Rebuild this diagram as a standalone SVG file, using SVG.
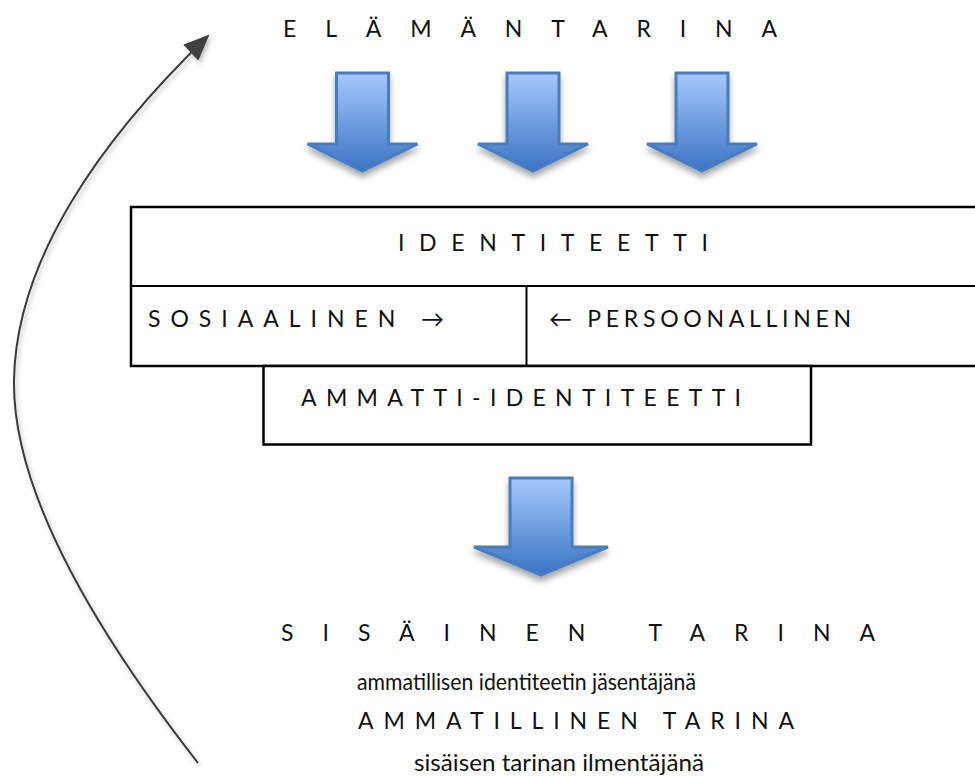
<svg xmlns="http://www.w3.org/2000/svg" width="975" height="776" viewBox="0 0 975 776">
  <defs>
    <style>
      .cap { font-family: "Lato", "Open Sans", "Liberation Sans", sans-serif; font-size: 23px; fill: #111; }
      .low { font-family: "Lato", "Open Sans", "Liberation Sans", sans-serif; font-size: 23px; fill: #111; }
      .box { fill: #fff; stroke: #000; stroke-width: 2.5; }
      .line { stroke: #000; stroke-width: 2; fill: none; }
      .blue { fill: url(#bg); stroke: #4a7cbc; stroke-width: 3; filter: url(#sh); }
      .curve { fill: none; stroke: #3a3a3a; stroke-width: 2; filter: url(#sh2); }
    </style>
    <linearGradient id="bg" x1="0" y1="0" x2="0" y2="1">
      <stop offset="0" stop-color="#a6c8fc"/>
      <stop offset="1" stop-color="#3a74c4"/>
    </linearGradient>
    <filter id="sh" x="-30%" y="-20%" width="160%" height="150%">
      <feDropShadow dx="0" dy="5" stdDeviation="3" flood-color="#000" flood-opacity="0.35"/>
    </filter>
    <filter id="sh2" x="-20%" y="-10%" width="140%" height="120%">
      <feDropShadow dx="2" dy="3" stdDeviation="2" flood-color="#000" flood-opacity="0.25"/>
    </filter>
    <marker id="ah" markerUnits="userSpaceOnUse" markerWidth="26" markerHeight="22" viewBox="0 0 26 22" refX="24" refY="11" orient="auto">
      <path d="M0,0 L26,11 L0,22 Z" fill="#404040"/>
    </marker>
    <path id="down" d="M-26,0 H26 V71 H55 L0,98 L-55,71 H-26 Z"/>
  </defs>
  <rect width="975" height="776" fill="#fff"/>

  <g id="connectors">
    <path class="curve" d="M198,763 C110,650 12,500 14,380 C16,260 100,140 208,36" marker-end="url(#ah)"/>
  </g>

  <g id="elamantarina">
    <text class="cap" x="283" y="37" textLength="494" lengthAdjust="spacing">ELÄMÄNTARINA</text>
  </g>

  <g id="arrows-top">
    <use href="#down" class="blue" transform="translate(362.5,73)"/>
    <use href="#down" class="blue" transform="translate(533,73)"/>
    <use href="#down" class="blue" transform="translate(702,73)"/>
  </g>

  <g id="identiteetti">
    <rect class="box" x="131" y="207" width="850" height="159"/>
    <line class="line" x1="131" y1="286" x2="975" y2="286"/>
    <line class="line" x1="526.5" y1="286" x2="526.5" y2="366"/>
    <text class="cap" x="398" y="251" textLength="310" lengthAdjust="spacing">IDENTITEETTI</text>
  </g>

  <g id="sosiaalinen">
    <text class="cap" x="148" y="327" textLength="296" lengthAdjust="spacing">SOSIAALINEN  →</text>
  </g>

  <g id="persoonallinen">
    <text class="cap" x="549" y="327" textLength="302" lengthAdjust="spacing">← PERSOONALLINEN</text>
  </g>

  <g id="ammatti-identiteetti">
    <rect class="box" x="263.5" y="366" width="547.5" height="78.5"/>
    <text class="cap" x="301" y="406" textLength="440" lengthAdjust="spacing">AMMATTI-IDENTITEETTI</text>
  </g>

  <g id="arrow-bottom">
    <path class="blue" d="M510,478 H572 V547 H608 L541,575 L474,547 H510 Z"/>
  </g>

  <g id="sisainen-tarina">
    <text class="cap" x="281" y="641" textLength="594" lengthAdjust="spacing">SISÄINEN  TARINA</text>
    <text class="low" x="357" y="690" textLength="339" lengthAdjust="spacingAndGlyphs">ammatillisen identiteetin jäsentäjänä</text>
  </g>

  <g id="ammatillinen-tarina">
    <text class="cap" x="358" y="729" textLength="436" lengthAdjust="spacing">AMMATILLINEN TARINA</text>
    <text class="low" x="414" y="771" textLength="290" lengthAdjust="spacingAndGlyphs">sisäisen tarinan ilmentäjänä</text>
  </g>
</svg>
